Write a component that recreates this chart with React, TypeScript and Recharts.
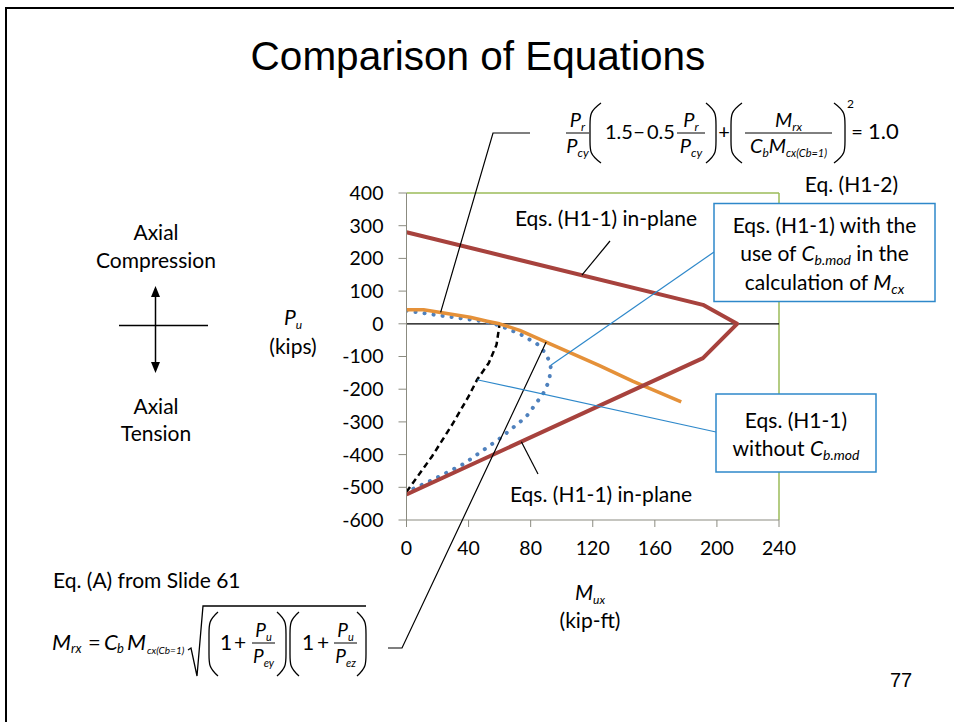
import React from "react"
import { LineChart, Line, XAxis, YAxis, ReferenceLine } from "recharts"

// axis ticks
const momentTicks = [0, 40, 80, 120, 160, 200, 240]
const axialTicks = [400, 300, 200, 100, 0, -100, -200, -300, -400, -500, -600]

// Eqs. (H1-1) in-plane (closed outline, compression then tension side)
const inPlaneM = [0, 191, 213, 191, 0]
const inPlaneP = [280, 58, 0, -105, -522]

// Eq. (H1-2)
const h12M = [0, 11, 24, 41, 52, 60, 73, 90, 124, 146, 177]
const h12P = [43, 43, 33, 20, 8, 0, -20, -56, -127, -176, -239]

// Eqs. (H1-1) with Cb.mod
const cbModM = [0, 22, 49, 60, 73, 84, 90, 93, 92, 88, 77, 60, 37, 17, 0]
const cbModP = [40, 25, 8, -5, -31, -61, -92, -127, -173, -214, -285, -351, -428, -477, -514]

// Eqs. (H1-1) without Cb.mod
const noCbModM = [0, 16.5, 30, 40, 45.5, 53, 58, 60]
const noCbModP = [-514, -405, -304, -222, -171, -120, -64, 0]

const toPoints = (ms: number[], ps: number[]) => ms.map((m, i) => ({ m, p: ps[i] }))

const W = 954
const H = 722
const PLOT = { left: 406.5, right: 779, top: 193, bottom: 520 }
const Y_AXIS_W = 70
const X_AXIS_H = 40

const sx = (m: number) => PLOT.left + (m / 240) * (PLOT.right - PLOT.left)
const sy = (p: number) => PLOT.top + ((400 - p) / 1000) * (PLOT.bottom - PLOT.top)

const FONT = "Lato, 'Noto Sans', sans-serif"
const TITLE_FONT = "'Liberation Sans', Arial, sans-serif"
const BLUE = "#2E88CA"
const LABEL = 21

function Paren({ x0, x1, top, bottom, close = false }: { x0: number; x1: number; top: number; bottom: number; close?: boolean }) {
  const bulge = close ? x1 : x0
  const tip = close ? x0 : x1
  const d = `M ${tip} ${top} C ${bulge} ${top + 8}, ${bulge} ${top + 12}, ${bulge} ${top + 22} L ${bulge} ${bottom - 22} C ${bulge} ${bottom - 12}, ${bulge} ${bottom - 8}, ${tip} ${bottom}`
  return <path d={d} fill="none" stroke="#000" strokeWidth={1.3} />
}

function Sym({ base, sub, size = 20, subSize = 12 }: { base: string; sub: string; size?: number; subSize?: number }) {
  return (
    <>
      <tspan fontStyle="italic" fontSize={size}>{base}</tspan>
      <tspan fontStyle="italic" fontSize={subSize} dy={4}>{sub}</tspan>
    </>
  )
}

function Frac({ x0, x1, barY, num, den }: { x0: number; x1: number; barY: number; num: React.ReactNode; den: React.ReactNode }) {
  const cx = (x0 + x1) / 2
  return (
    <g>
      <line x1={x0} x2={x1} y1={barY} y2={barY} stroke="#000" strokeWidth={1} />
      <text x={cx} y={barY - 6} textAnchor="middle">{num}</text>
      <text x={cx} y={barY + 20} textAnchor="middle">{den}</text>
    </g>
  )
}

function Annotations() {
  return (
    <svg width={W} height={H} style={{ position: "absolute", left: 0, top: 0, pointerEvents: "none" }} fontFamily={FONT} fill="#000">
      {/* slide frame */}
      <line x1={5} x2={W} y1={8} y2={8} stroke="#000" strokeWidth={2} />
      <line x1={6} x2={6} y1={8} y2={H} stroke="#000" strokeWidth={2} />

      <text x={478} y={70} textAnchor="middle" fontFamily={TITLE_FONT} fontSize={40.5}>Comparison of Equations</text>

      {/* Eq. (H1-2) */}
      <g fontSize={20}>
        <Frac x0={566} x1={589} barY={133} num={<Sym base="P" sub="r" />} den={<Sym base="P" sub="cy" />} />
        <Paren x0={590} x1={601} top={103} bottom={163} />
        <text x={605} y={139}>1.5</text>
        <text x={639} y={139} textAnchor="middle">−</text>
        <text x={647} y={139}>0.5</text>
        <Frac x0={677} x1={705} barY={133} num={<Sym base="P" sub="r" />} den={<Sym base="P" sub="cy" />} />
        <Paren x0={706} x1={716} top={103} bottom={163} close />
        <text x={724} y={139} textAnchor="middle">+</text>
        <Paren x0={731} x1={742} top={103} bottom={163} />
        <Frac
          x0={745}
          x1={832}
          barY={133}
          num={<Sym base="M" sub="rx" />}
          den={
            <>
              <Sym base="C" sub="b" />
              <tspan fontStyle="italic" dy={-4}>M</tspan>
              <tspan fontStyle="italic" fontSize={11} dy={4}>cx(Cb=1)</tspan>
            </>
          }
        />
        <Paren x0={834} x1={845} top={103} bottom={163} close />
        <text x={847} y={108} fontSize={12}>2</text>
        <text x={857} y={139} textAnchor="middle">=</text>
        <text x={868} y={139} fontSize={22}>1.0</text>
        <text x={898} y={192} fontSize={LABEL} textAnchor="end">Eq. (H1-2)</text>
      </g>
      <polyline points={`530,133 493,133 ${sx(22)},${sy(35)}`} fill="none" stroke="#000" strokeWidth={1.2} />

      {/* Eq. (A) */}
      <text x={53} y={588} fontSize={LABEL}>Eq. (A) from Slide 61</text>
      <g fontSize={22}>
        <text y={650}>
          <tspan x={52} fontStyle="italic">M</tspan>
          <tspan x={71} fontStyle="italic" fontSize={13} dy={3}>rx</tspan>
          <tspan x={88} dy={-3}>=</tspan>
          <tspan x={104} fontStyle="italic">C</tspan>
          <tspan x={117} fontStyle="italic" fontSize={13} dy={3}>b</tspan>
          <tspan x={127} fontStyle="italic" dy={-3}>M</tspan>
          <tspan x={147} fontStyle="italic" fontSize={10} dy={4}>cx(Cb=1)</tspan>
        </text>
        <path d="M 188 650 L 191 648 L 197 676 L 203 606 L 366 606" fill="none" stroke="#000" strokeWidth={1.3} />
        <Paren x0={209} x1={218} top={612} bottom={676} />
        <text x={220} y={650} fontSize={21}>1</text>
        <text x={240} y={650} textAnchor="middle" fontSize={21}>+</text>
        <g fontSize={19}>
          <Frac x0={252} x1={275} barY={643} num={<Sym base="P" sub="u" size={19} subSize={11} />} den={<Sym base="P" sub="ey" size={19} subSize={11} />} />
        </g>
        <Paren x0={277} x1={286} top={612} bottom={676} close />
        <Paren x0={290} x1={299} top={612} bottom={676} />
        <text x={302} y={650} fontSize={21}>1</text>
        <text x={323} y={650} textAnchor="middle" fontSize={21}>+</text>
        <g fontSize={19}>
          <Frac x0={334} x1={357} barY={643} num={<Sym base="P" sub="u" size={19} subSize={11} />} den={<Sym base="P" sub="ez" size={19} subSize={11} />} />
        </g>
        <Paren x0={357} x1={366} top={612} bottom={676} close />
      </g>
      <polyline points={`388,648 402,648 ${sx(90)},${sy(-56)}`} fill="none" stroke="#000" strokeWidth={1.2} />

      {/* axial force direction sketch */}
      <g fontSize={LABEL} textAnchor="middle">
        <text x={156} y={240}>Axial</text>
        <text x={156} y={268}>Compression</text>
        <text x={156} y={414}>Axial</text>
        <text x={156} y={441}>Tension</text>
      </g>
      <line x1={119} x2={208} y1={325.5} y2={325.5} stroke="#000" strokeWidth={1.3} />
      <line x1={155.5} x2={155.5} y1={292} y2={367} stroke="#000" strokeWidth={1.5} />
      <polygon points="155.5,286 151,297 160,297" fill="#000" />
      <polygon points="155.5,373 151,362 160,362" fill="#000" />

      {/* axis titles */}
      <text x={293} y={325} textAnchor="middle" fontSize={LABEL}>
        <Sym base="P" sub="u" size={LABEL} subSize={12} />
      </text>
      <text x={293} y={354} textAnchor="middle" fontSize={LABEL}>(kips)</text>
      <text x={590} y={600} textAnchor="middle" fontSize={LABEL}>
        <Sym base="M" sub="ux" size={LABEL} subSize={12} />
      </text>
      <text x={590} y={628} textAnchor="middle" fontSize={LABEL}>(kip-ft)</text>

      {/* series labels */}
      <text x={606} y={226} textAnchor="middle" fontSize={LABEL}>Eqs. (H1-1) in-plane</text>
      <line x1={610} y1={241} x2={sx(113)} y2={sy(280 - (222 * 113) / 191)} stroke="#000" strokeWidth={1.2} />
      <text x={601} y={502} textAnchor="middle" fontSize={LABEL}>Eqs. (H1-1) in-plane</text>
      <line x1={538} y1={474} x2={sx(74)} y2={sy(-522 + (417 * 74) / 191)} stroke="#000" strokeWidth={1.2} />

      <line x1={714} y1={252} x2={sx(93)} y2={sy(-127)} stroke={BLUE} strokeWidth={1.2} />
      <rect x={714} y={203.5} width={221} height={98} fill="#fff" stroke={BLUE} strokeWidth={1.5} />
      <g fontSize={LABEL} textAnchor="middle">
        <text x={824.5} y={233}>Eqs. (H1-1) with the</text>
        <text x={824.5} y={261}>
          use of <tspan fontStyle="italic">C</tspan>
          <tspan fontStyle="italic" fontSize={14} dy={4}>b.mod</tspan>
          <tspan dy={-4}> in the</tspan>
        </text>
        <text x={824.5} y={290}>
          calculation of <tspan fontStyle="italic">M</tspan>
          <tspan fontStyle="italic" fontSize={14} dy={4}>cx</tspan>
        </text>
      </g>

      <line x1={716} y1={432} x2={sx(45.5)} y2={sy(-171)} stroke={BLUE} strokeWidth={1.2} />
      <rect x={716} y={394} width={160} height={78} fill="#fff" stroke={BLUE} strokeWidth={1.5} />
      <g fontSize={LABEL} textAnchor="middle">
        <text x={796} y={428}>Eqs. (H1-1)</text>
        <text x={796} y={456}>
          without <tspan fontStyle="italic">C</tspan>
          <tspan fontStyle="italic" fontSize={14} dy={4}>b.mod</tspan>
        </text>
      </g>

      <text x={901} y={687} textAnchor="middle" fontFamily={TITLE_FONT} fontSize={20}>77</text>
    </svg>
  )
}

export default function App() {
  const tick = { fill: "#000", fontSize: 19.5, fontFamily: FONT }
  return (
    <div style={{ position: "fixed", left: 0, top: 0, width: W, height: H, background: "#fff" }}>
      <LineChart
        width={W}
        height={H}
        margin={{ top: PLOT.top, right: W - PLOT.right, bottom: H - PLOT.bottom - X_AXIS_H, left: PLOT.left - Y_AXIS_W }}
      >
        <XAxis
          type="number"
          dataKey="m"
          domain={[0, 240]}
          ticks={momentTicks}
          allowDataOverflow
          height={X_AXIS_H}
          stroke="#8B8B80"
          tickSize={7}
          tickMargin={14}
          tick={tick}
        />
        <YAxis
          type="number"
          dataKey="p"
          domain={[-600, 400]}
          ticks={axialTicks}
          allowDataOverflow
          width={Y_AXIS_W}
          stroke="#8B8B80"
          tickSize={8}
          tickMargin={15}
          tick={tick}
        />
        <ReferenceLine y={400} stroke="#9BBB59" strokeWidth={1.5} />
        <ReferenceLine x={240} stroke="#9BBB59" strokeWidth={1.5} />
        <ReferenceLine y={0} stroke="#000" strokeWidth={1.3} />
        <Line
          data={toPoints(noCbModM, noCbModP)}
          dataKey="p"
          type="linear"
          stroke="#000"
          strokeWidth={2.5}
          strokeDasharray="6 4"
          dot={false}
          isAnimationActive={false}
        />
        <Line
          data={toPoints(cbModM, cbModP)}
          dataKey="p"
          type="linear"
          stroke="#4F81BD"
          strokeWidth={4}
          strokeDasharray="0.1 9"
          strokeLinecap="round"
          dot={false}
          isAnimationActive={false}
        />
        <Line
          data={toPoints(h12M, h12P)}
          dataKey="p"
          type="linear"
          stroke="#E59139"
          strokeWidth={3.5}
          strokeLinejoin="round"
          dot={false}
          isAnimationActive={false}
        />
        <Line
          data={toPoints(inPlaneM, inPlaneP)}
          dataKey="p"
          type="linear"
          stroke="#A7423D"
          strokeWidth={4}
          strokeLinejoin="round"
          dot={false}
          isAnimationActive={false}
        />
      </LineChart>
      <Annotations />
    </div>
  )
}
